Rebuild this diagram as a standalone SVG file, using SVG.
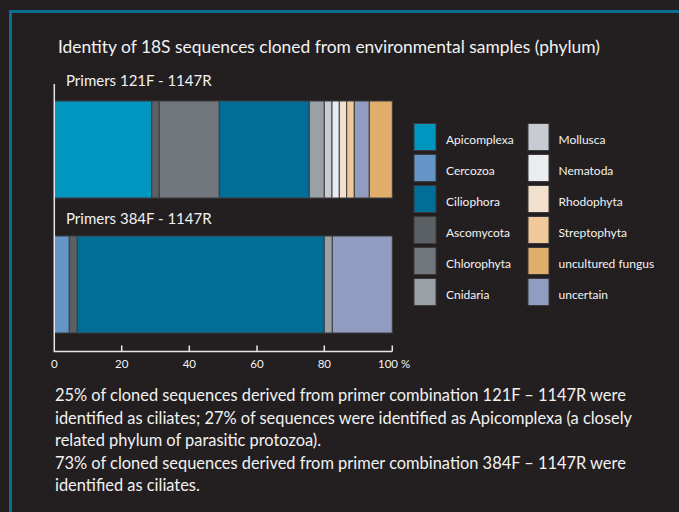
<svg xmlns="http://www.w3.org/2000/svg" width="679" height="512" viewBox="0 0 679 512">
<style>
text{font-family:Lato,"Liberation Sans",sans-serif;fill:#f2f2f2}
.t{font-size:17.4px}
.p{font-size:15px}
.lg{font-size:12px}
.ax{font-size:11.5px}
.b{font-size:16.4px}
.seg{stroke:#3d3d3f;stroke-width:1}
.sq{stroke:#3a3a3c;stroke-width:1}
.axis{stroke:#e6e6e6;stroke-width:1.5;fill:none}
</style>
<rect x="0" y="0" width="679" height="512" fill="#231f20"/>
<path d="M10.5,512 V11.5 H679" fill="none" stroke="#0b6f95" stroke-width="3"/>
<text class="t" x="58" y="53">Identity of 18S sequences cloned from environmental samples (phylum)</text>
<text class="p" x="66" y="86">Primers 121F - 1147R</text>
<text class="p" x="66" y="224">Primers 384F - 1147R</text>
<g id="bar1">
<rect class="seg" x="54" y="101" width="97.7" height="97" fill="#0096c0"/>
<rect class="seg" x="151.7" y="101" width="7.6" height="97" fill="#5a6064"/>
<rect class="seg" x="159.3" y="101" width="60" height="97" fill="#71777d"/>
<rect class="seg" x="219.3" y="101" width="90" height="97" fill="#006e96"/>
<rect class="seg" x="309.3" y="101" width="15" height="97" fill="#9aa0a6"/>
<rect class="seg" x="324.3" y="101" width="7.7" height="97" fill="#c8ccd2"/>
<rect class="seg" x="332" y="101" width="7.3" height="97" fill="#eaecf0"/>
<rect class="seg" x="339.3" y="101" width="7.4" height="97" fill="#f3e0cc"/>
<rect class="seg" x="346.7" y="101" width="7.6" height="97" fill="#f0c89a"/>
<rect class="seg" x="354.3" y="101" width="15" height="97" fill="#909cc0"/>
<rect class="seg" x="369.3" y="101" width="23" height="97" fill="#e0ae6a"/>
</g>
<g id="bar2">
<rect class="seg" x="54" y="236" width="15.3" height="97" fill="#6496c8"/>
<rect class="seg" x="69.3" y="236" width="8" height="97" fill="#5a6064"/>
<rect class="seg" x="77.3" y="236" width="247" height="97" fill="#006e96"/>
<rect class="seg" x="324.3" y="236" width="8" height="97" fill="#9aa0a6"/>
<rect class="seg" x="332.3" y="236" width="60" height="97" fill="#909cc0"/>
</g>
<g id="axis">
<path class="axis" d="M54.3,84 V351.5 H392.3 M121.7,345.5 V351.5 M189.3,345.5 V351.5 M257,345.5 V351.5 M324.3,345.5 V351.5 M392.3,345.5 V351.5"/>
<text class="ax" x="54.3" y="368" text-anchor="middle">0</text>
<text class="ax" x="121.7" y="368" text-anchor="middle">20</text>
<text class="ax" x="189.3" y="368" text-anchor="middle">40</text>
<text class="ax" x="257" y="368" text-anchor="middle">60</text>
<text class="ax" x="324.3" y="368" text-anchor="middle">80</text>
<text class="ax" x="378" y="368">100 %</text>
</g>
<g id="legend">
<rect class="sq" x="414" y="123.5" width="22" height="27" fill="#0096c0"/>
<text class="lg" x="446" y="143.5">Apicomplexa</text>
<rect class="sq" x="414" y="154.5" width="22" height="27" fill="#6496c8"/>
<text class="lg" x="446" y="174.5">Cercozoa</text>
<rect class="sq" x="414" y="185.5" width="22" height="27" fill="#006e96"/>
<text class="lg" x="446" y="205.5">Ciliophora</text>
<rect class="sq" x="414" y="216.5" width="22" height="27" fill="#5a6064"/>
<text class="lg" x="446" y="236.5">Ascomycota</text>
<rect class="sq" x="414" y="247.5" width="22" height="27" fill="#71777d"/>
<text class="lg" x="446" y="267.5">Chlorophyta</text>
<rect class="sq" x="414" y="278.5" width="22" height="27" fill="#9aa0a6"/>
<text class="lg" x="446" y="298.5">Cnidaria</text>
<rect class="sq" x="528" y="123.5" width="21" height="27" fill="#c8ccd2"/>
<text class="lg" x="558.5" y="143.5">Mollusca</text>
<rect class="sq" x="528" y="154.5" width="21" height="27" fill="#eaecf0"/>
<text class="lg" x="558.5" y="174.5">Nematoda</text>
<rect class="sq" x="528" y="185.5" width="21" height="27" fill="#f3e0cc"/>
<text class="lg" x="558.5" y="205.5">Rhodophyta</text>
<rect class="sq" x="528" y="216.5" width="21" height="27" fill="#f0c89a"/>
<text class="lg" x="558.5" y="236.5">Streptophyta</text>
<rect class="sq" x="528" y="247.5" width="21" height="27" fill="#e0ae6a"/>
<text class="lg" x="558.5" y="267.5">uncultured fungus</text>
<rect class="sq" x="528" y="278.5" width="21" height="27" fill="#909cc0"/>
<text class="lg" x="558.5" y="298.5">uncertain</text>
</g>
<g id="caption">
<text class="b" x="55" y="401">25% of cloned sequences derived from primer combination 121F – 1147R were</text>
<text class="b" x="55" y="423.5">identified as ciliates; 27% of sequences were identified as Apicomplexa (a closely</text>
<text class="b" x="55" y="446">related phylum of parasitic protozoa).</text>
<text class="b" x="55" y="468.5">73% of cloned sequences derived from primer combination 384F – 1147R were</text>
<text class="b" x="55" y="491">identified as ciliates.</text>
</g>
</svg>
